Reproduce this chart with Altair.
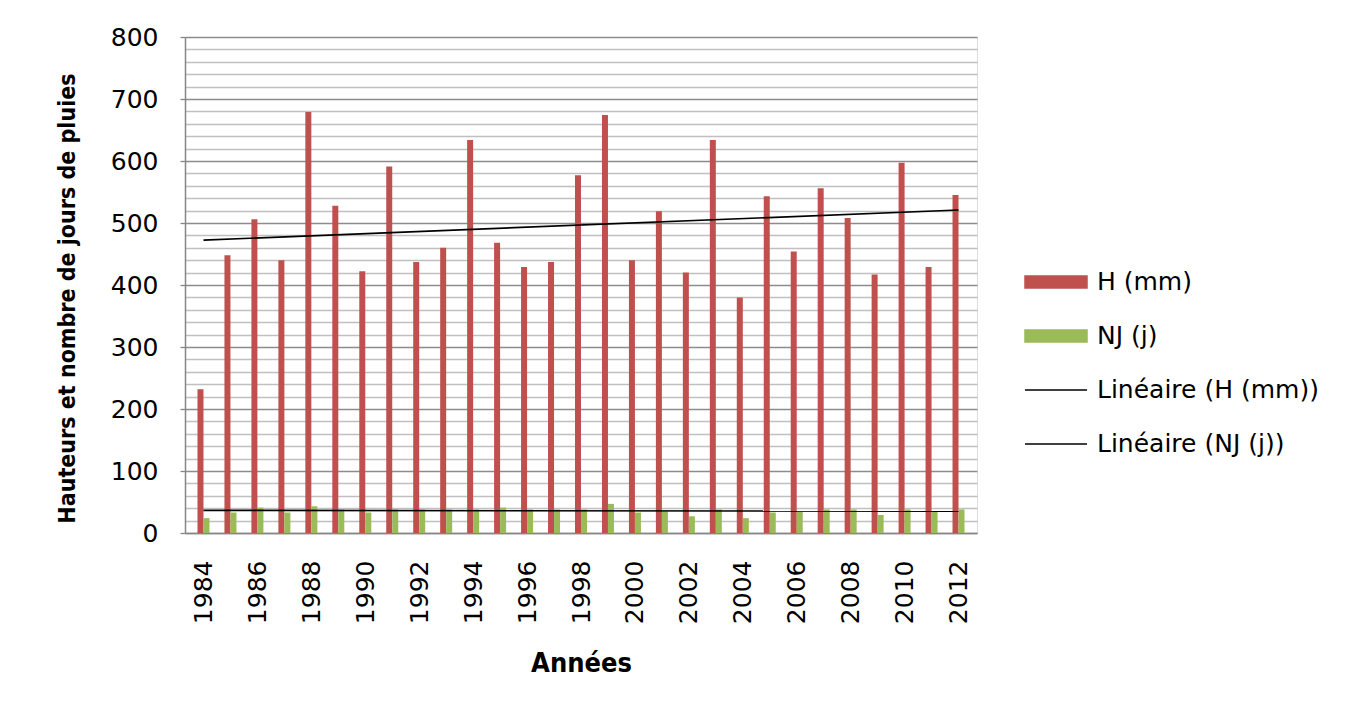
import altair as alt
import pandas as pd

years = list(range(1984, 2013))
h_mm = [232, 448, 506, 440, 679, 528, 422, 591, 437, 460,
        634, 468, 429, 437, 577, 674, 440, 519, 420, 634,
        380, 543, 454, 556, 508, 417, 597, 429, 545]
nj_j = [24, 33, 41, 33, 43, 38, 33, 38, 38, 38,
        38, 41, 38, 38, 38, 47, 33, 35, 27, 38,
        24, 33, 34, 38, 38, 29, 38, 34, 38]

legend_labels = ["H (mm)", "NJ (j)", "Linéaire (H (mm))", "Linéaire (NJ (j))"]
legend_colors = ["#C0504D", "#9BBB59", "#000000", "#000000"]
rect_path = "M-1,-0.19H1V0.19H-1Z"
line_path = "M-1,0H1"
legend_shapes = [rect_path, rect_path, line_path, line_path]

x_label_years = list(range(1984, 2013, 2))
y_tick_values = list(range(0, 801, 20))

y_title = "Hauteurs et nombre de jours de pluies"
x_title = "Années"

df = pd.DataFrame({"year": years, "H": h_mm, "NJ": nj_j})
leg_df = pd.DataFrame({"serie": legend_labels})

TITLE_FONT = "DejaVu Sans Condensed"
LABEL_FONT = "DejaVu Sans"

x_axis = alt.Axis(
    values=x_label_years, tickCount=100, format="d", labelAngle=-90, ticks=False,
    labelPadding=27, labelFont=LABEL_FONT, labelFontSize=25, labelColor="black",
    labelOverlap=False,
    domainColor="#868686", domainWidth=1.5, grid=False,
    title=x_title, titleFont=TITLE_FONT, titleFontSize=27, titleFontWeight="bold",
    titleColor="black", titlePadding=27,
)
x_enc = alt.X("year:Q", scale=alt.Scale(domain=[1983.5, 2012.5], nice=False, zero=False),
              axis=x_axis)

major = "datum.value % 100 === 0"
y_axis = alt.Axis(
    values=y_tick_values, tickCount=100,
    labelExpr=f"{major} ? datum.label : ''",
    labelOverlap=False,
    grid=True,
    gridColor={"condition": {"test": major, "value": "#8C8C8C"}, "value": "#C0C0C0"},
    gridWidth=1.3,
    tickColor={"condition": {"test": major, "value": "#868686"}, "value": "transparent"},
    tickSize=5, tickWidth=1.3,
    domainColor="#868686", domainWidth=1.5,
    labelFont=LABEL_FONT, labelFontSize=25, labelColor="black", labelPadding=22,
    title=y_title, titleFont=TITLE_FONT, titleFontSize=23, titleFontWeight="bold",
    titleColor="black", titlePadding=31, titleY=261,
)
y_scale = alt.Scale(domain=[0, 800], nice=False)

base = alt.Chart(df)

bars_h = base.mark_bar(color="#C0504D", width=6, xOffset=-3, orient="vertical").encode(
    x=x_enc, y=alt.Y("H:Q", scale=y_scale, axis=y_axis, title=y_title)
)
bars_nj = base.mark_bar(color="#9BBB59", width=6, xOffset=3, orient="vertical").encode(
    x=alt.X("year:Q"), y=alt.Y("NJ:Q", title=y_title)
)
trend_h = base.transform_regression("year", "H").mark_line(color="black", strokeWidth=1.7).encode(
    x=alt.X("year:Q"), y=alt.Y("H:Q", title=y_title)
)
trend_nj = base.transform_regression("year", "NJ").mark_line(color="black", strokeWidth=1.7).encode(
    x=alt.X("year:Q"), y=alt.Y("NJ:Q", title=y_title)
)

leg = alt.Legend(
    title=None, orient="none", legendX=839, legendY=213, direction="vertical",
    labelFont=LABEL_FONT, labelFontSize=25, labelColor="black", labelOffset=9,
    labelLimit=0,
    symbolSize=3844, symbolStrokeWidth=1.5, rowPadding=9, padding=0,
)
legend_layer = alt.Chart(leg_df).mark_point(filled=True, size=3844, opacity=1).encode(
    fill=alt.Fill("serie:N", scale=alt.Scale(domain=legend_labels, range=legend_colors), legend=leg),
    stroke=alt.Stroke("serie:N", scale=alt.Scale(domain=legend_labels, range=legend_colors), legend=leg),
    shape=alt.Shape("serie:N", scale=alt.Scale(domain=legend_labels, range=legend_shapes), legend=leg),
).transform_filter("false")

chart = alt.layer(bars_h, bars_nj, trend_h, trend_nj, legend_layer).properties(
    width=792, height=496,
    autosize=alt.AutoSizeParams(type="none"),
    padding={"left": 177, "top": 29, "right": 366, "bottom": 160},
).configure_view(stroke=None).configure(background="white")

chart.save("out.html", embed_options={"renderer": "svg", "actions": False})
